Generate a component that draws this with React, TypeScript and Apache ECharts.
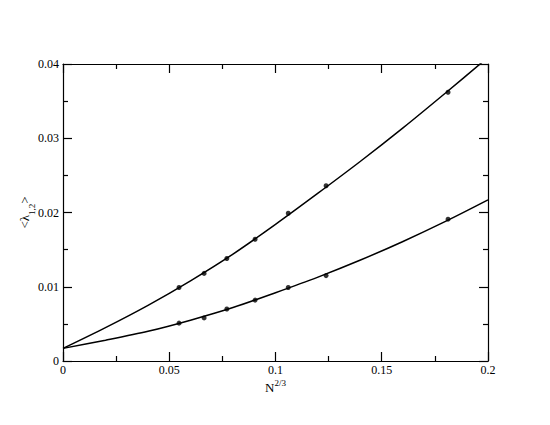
import React, { useEffect, useRef } from "react";
import * as echarts from "echarts";

const pointX = [0.0546, 0.0664, 0.0771, 0.0904, 0.106, 0.1238, 0.1812];
const upperPoints = [0.0099, 0.0118, 0.0138, 0.0164, 0.0199, 0.0236, 0.0362];
const lowerPoints = [0.0051, 0.0058, 0.007, 0.0082, 0.0099, 0.0115, 0.0191];

const curveX = [0, 0.02, 0.04, 0.06, 0.08, 0.1, 0.12, 0.14, 0.16, 0.18, 0.2];
const upperCurve = [0.0017, 0.0045, 0.0075, 0.0108, 0.0144, 0.0184, 0.0226, 0.0269, 0.0314, 0.0361, 0.0409];
const lowerCurve = [0.0017, 0.0028, 0.004, 0.0055, 0.0072, 0.0092, 0.0113, 0.0136, 0.0161, 0.0188, 0.0217];

const xTicks = { min: 0, max: 0.2, interval: 0.05 };
const yTicks = { min: 0, max: 0.04, interval: 0.01 };

const FONT = "'Liberation Serif', serif";

export default function App() {
  const ref = useRef<HTMLDivElement>(null);
  useEffect(() => {
    if (!ref.current) return;
    const chart = echarts.init(ref.current, undefined, { renderer: "svg" });
    const lineStyle = { color: "#000", width: 1.2 };
    const baseAxis = {
      type: "value" as const,
      axisLine: { show: true, onZero: false, lineStyle },
      axisTick: { show: true, inside: true, length: 9, lineStyle },
      minorTick: { show: true, splitNumber: 2, length: 5, lineStyle },
      splitLine: { show: false },
    };
    chart.setOption({
      animation: false,
      backgroundColor: "#fff",
      textStyle: { fontFamily: FONT, color: "#000" },
      grid: { left: 63, right: 62, top: 64, bottom: 64 },
      xAxis: [
        {
          ...baseAxis,
          ...xTicks,
          position: "bottom",
          name: "{a|N}{s|2/3}",
          nameLocation: "middle",
          nameGap: 17,
          nameMoveOverlap: false,
          nameTextStyle: {
            fontFamily: FONT,
            color: "#000",
            rich: {
              a: { fontFamily: FONT, fontSize: 13, color: "#000", verticalAlign: "bottom", lineHeight: 16 },
              s: { fontFamily: FONT, fontSize: 9, color: "#000", verticalAlign: "top", lineHeight: 8 },
            },
          },
          axisLabel: { fontFamily: FONT, fontSize: 12, color: "#000", margin: 3 },
        },
        {
          ...baseAxis,
          ...xTicks,
          position: "top",
          axisLabel: { show: false },
        },
      ],
      yAxis: [
        {
          ...baseAxis,
          ...yTicks,
          position: "left",
          name: "{a|<λ}{s|1,2}{a|>}",
          nameLocation: "middle",
          nameGap: 27,
          nameMoveOverlap: false,
          nameTextStyle: {
            fontFamily: FONT,
            color: "#000",
            rich: {
              a: { fontFamily: FONT, fontSize: 13, color: "#000", verticalAlign: "top", lineHeight: 18 },
              s: { fontFamily: FONT, fontSize: 9, color: "#000", verticalAlign: "bottom", lineHeight: 9 },
            },
          },
          axisLabel: { fontFamily: FONT, fontSize: 12, color: "#000", margin: 4 },
        },
        {
          ...baseAxis,
          ...yTicks,
          position: "right",
          axisLabel: { show: false },
        },
      ],
      series: [
        {
          type: "line",
          data: curveX.map((x, i) => [x, upperCurve[i]]),
          smooth: 0.3,
          showSymbol: false,
          clip: true,
          lineStyle: { color: "#000", width: 1.5 },
        },
        {
          type: "line",
          data: curveX.map((x, i) => [x, lowerCurve[i]]),
          smooth: 0.3,
          showSymbol: false,
          clip: true,
          lineStyle: { color: "#000", width: 1.5 },
        },
        {
          type: "scatter",
          data: pointX.map((x, i) => [x, upperPoints[i]]),
          symbol: "circle",
          symbolSize: 5,
          itemStyle: { color: "#000" },
        },
        {
          type: "scatter",
          data: pointX.map((x, i) => [x, lowerPoints[i]]),
          symbol: "circle",
          symbolSize: 5,
          itemStyle: { color: "#000" },
        },
      ],
    });
    return () => chart.dispose();
  }, []);
  return (
    <div
      ref={ref}
      style={{ position: "absolute", left: 0, top: 0, width: 550, height: 425 }}
    />
  );
}
